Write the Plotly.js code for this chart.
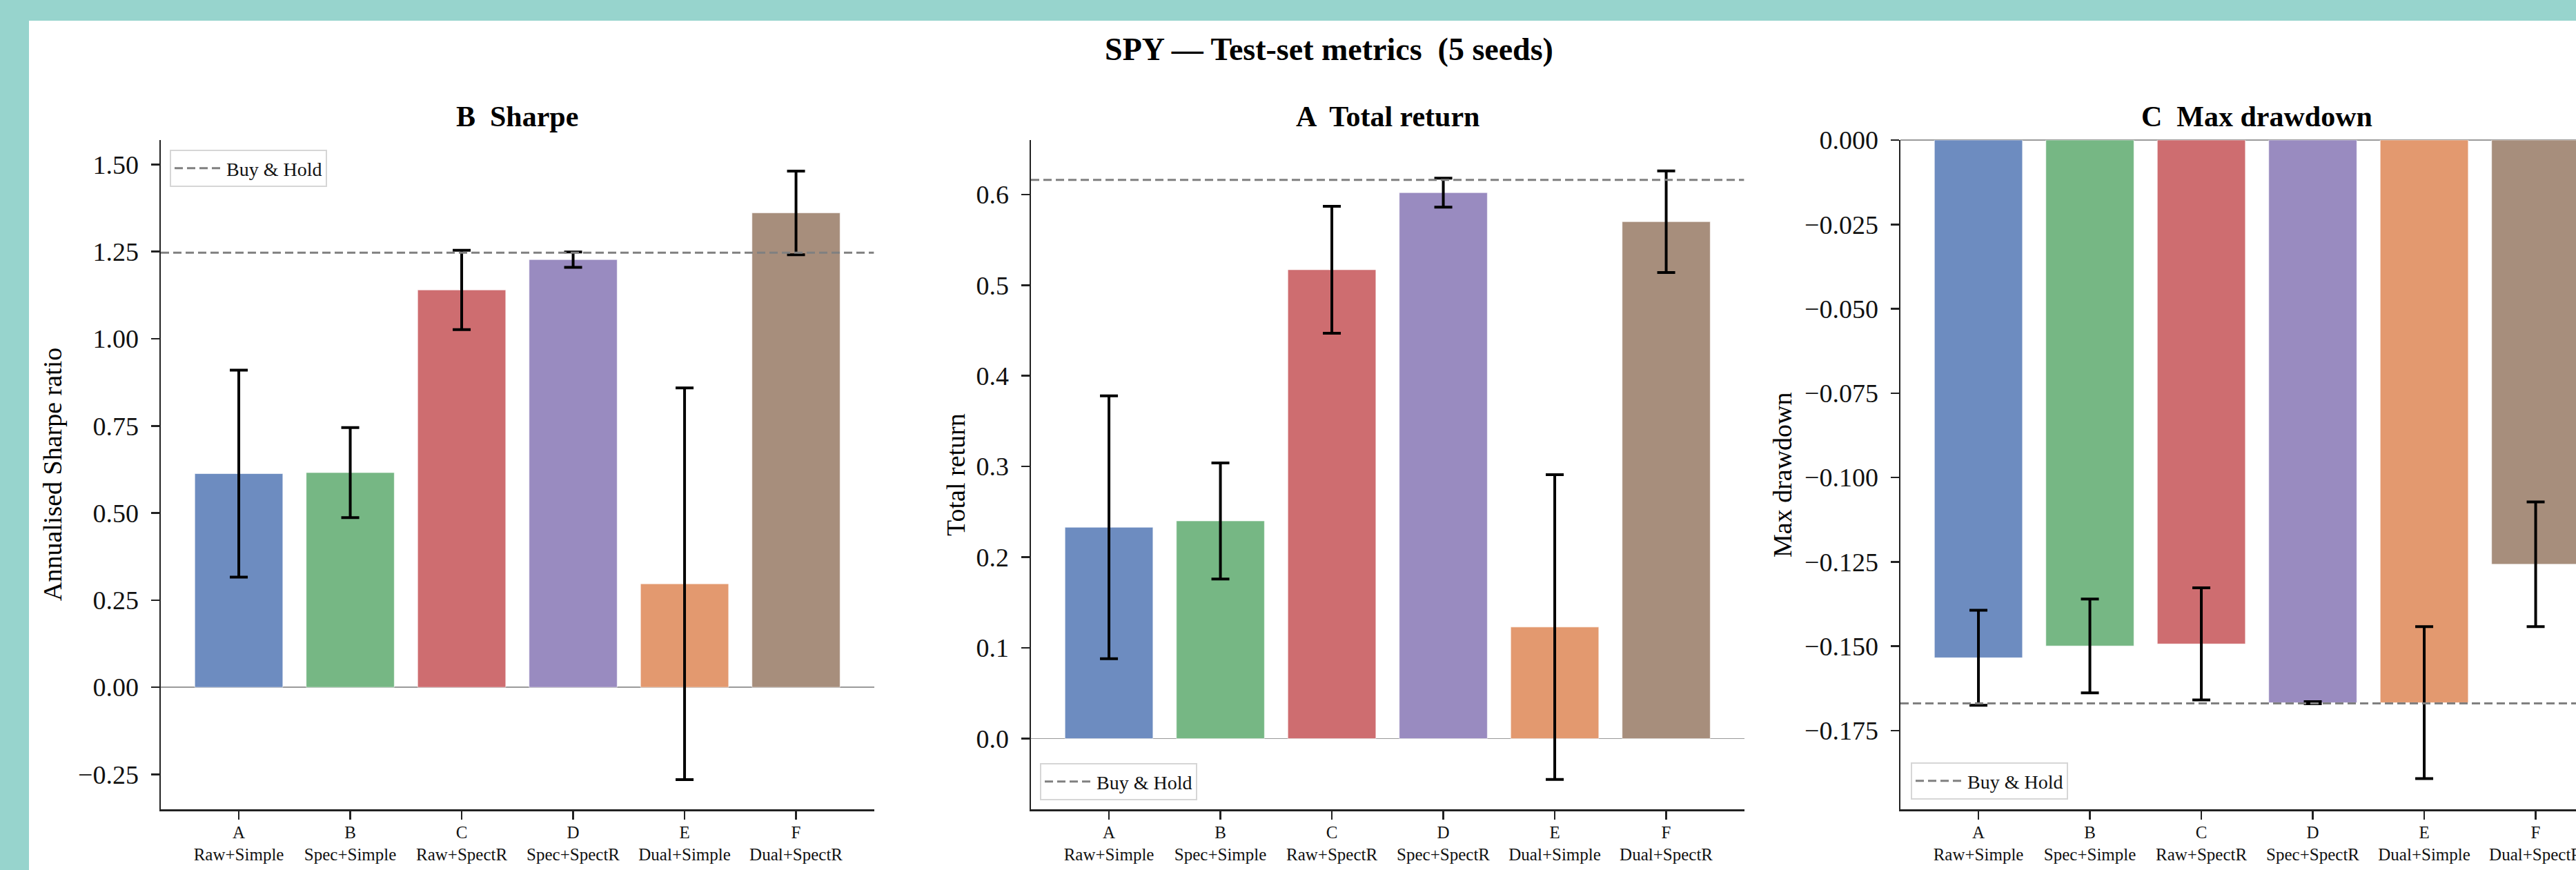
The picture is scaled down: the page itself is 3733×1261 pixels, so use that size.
<!DOCTYPE html>
<html>
<head>
<meta charset="utf-8">
<script src="https://cdn.plot.ly/plotly-3.0.1.min.js"></script>
<style>
  html, body { margin: 0; padding: 0; width: 3733px; height: 1261px; overflow: hidden; background: #97d4cd; }
  #chart { position: absolute; left: 42px; top: 30px; width: 3768px; height: 1231px; background: #ffffff; }
</style>
</head>
<body>
<div id="chart"></div>
<script>
// ---- data ----
const letters = ['A', 'B', 'C', 'D', 'E', 'F'];
const names = ['Raw+Simple', 'Spec+Simple', 'Raw+SpectR', 'Spec+SpectR', 'Dual+Simple', 'Dual+SpectR'];
const sharpeMean = [0.613, 0.616, 1.140, 1.227, 0.297, 1.361];
const sharpeStd  = [0.297, 0.129, 0.114, 0.022, 0.562, 0.120];
const returnMean = [0.233, 0.240, 0.517, 0.602, 0.123, 0.570];
const returnStd  = [0.145, 0.064, 0.070, 0.016, 0.168, 0.056];
const ddMean = [-0.1534, -0.1499, -0.1493, -0.1667, -0.1667, -0.1257];
const ddStd  = [0.0141, 0.0139, 0.0166, 0.0003, 0.0225, 0.0185];
const buyHoldSharpe = 1.247;
const buyHoldReturn = 0.616;
const buyHoldDD = -0.1669;
const panelTitles = ['B  Sharpe', 'A  Total return', 'C  Max drawdown'];
const yTitles = ['Annualised Sharpe ratio', 'Total return', 'Max drawdown'];
const mainTitle = 'SPY \u2014 Test-set metrics  (5 seeds)';
const legendLabel = 'Buy & Hold';

// ---- styling ----
const colors = ['#6d8cc0', '#76b784', '#ce6d70', '#998bc0', '#e3996f', '#a78e7c'];
const FONT = '"Liberation Serif", "Times New Roman", Times, serif';
const W = 3768, H = 1231;
const xr = [-0.7, 5.7];
const unit = 161.5;
const axLefts = [191, 1452, 2712];
const axW = (xr[1] - xr[0]) * unit;
const yTop = 173, yBot = 1143;
const yDom = [1 - yBot / H, 1 - yTop / H];
const xDoms = axLefts.map(l => [l / W, (l + axW) / W]);

const xs = letters.map((_, i) => i);
const tickText = letters.map((l, i) => l + '<br>' + names[i]);

const means = [sharpeMean, returnMean, ddMean];
const stds = [sharpeStd, returnStd, ddStd];
const bh = [buyHoldSharpe, buyHoldReturn, buyHoldDD];
const legendIds = ['legend', 'legend2', 'legend3'];

const traces = [];
for (let p = 0; p < 3; p++) {
  const xa = p === 0 ? 'x' : 'x' + (p + 1);
  const ya = p === 0 ? 'y' : 'y' + (p + 1);
  traces.push({
    type: 'bar', x: xs, y: means[p], width: 0.79,
    xaxis: xa, yaxis: ya, showlegend: false,
    marker: { color: colors, line: { color: 'rgba(255,255,255,0.6)', width: 1 } },
    error_y: { type: 'data', array: stds[p], visible: true, color: '#000000', thickness: 4, width: 13 },
    hoverinfo: 'skip'
  });
}
for (let p = 0; p < 3; p++) {
  const xa = p === 0 ? 'x' : 'x' + (p + 1);
  const ya = p === 0 ? 'y' : 'y' + (p + 1);
  traces.push({
    type: 'scatter', mode: 'lines', x: xr, y: [bh[p], bh[p]],
    xaxis: xa, yaxis: ya, name: legendLabel, legend: legendIds[p], showlegend: true,
    line: { color: '#808080', width: 3, dash: '12px,6px' },
    hoverinfo: 'skip'
  });
}

function xAxis(p) {
  return {
    domain: xDoms[p], range: xr, anchor: p === 0 ? 'y' : 'y' + (p + 1),
    tickmode: 'array', tickvals: xs, ticktext: tickText,
    showgrid: false, zeroline: false, showline: true, linecolor: '#222222', linewidth: 2.5,
    ticks: 'outside', ticklen: 12, tickwidth: 2.5, tickcolor: '#222222',
    tickfont: { family: FONT, size: 25, color: '#111111' }, ticklabelstandoff: -3,
    fixedrange: true
  };
}
function yAxis(p, range, dtick, fmt) {
  return {
    domain: yDom, range: range, anchor: p === 0 ? 'x' : 'x' + (p + 1),
    tick0: 0, dtick: dtick, tickformat: fmt,
    showgrid: false, zeroline: true, zerolinecolor: '#9a9a9a', zerolinewidth: 1.5,
    showline: true, linecolor: '#222222', linewidth: 2.5,
    ticks: 'outside', ticklen: 12, tickwidth: 2.5, tickcolor: '#222222',
    tickfont: { family: FONT, size: 38, color: '#111111' }, ticklabelstandoff: 10,
    fixedrange: true
  };
}

const titleY = 1 - 139 / H;
const annotations = [];
for (let p = 0; p < 3; p++) {
  annotations.push({
    text: '<b>' + panelTitles[p] + '</b>', xref: 'paper', yref: 'paper',
    x: (xDoms[p][0] + xDoms[p][1]) / 2, y: titleY, xanchor: 'center', yanchor: 'middle',
    showarrow: false, font: { family: FONT, size: 42, color: '#000000' }
  });
}
const yTitleX = [34, 1343, 2541];
for (let p = 0; p < 3; p++) {
  annotations.push({
    text: yTitles[p], xref: 'paper', yref: 'paper', textangle: -90,
    x: yTitleX[p] / W, y: (yDom[0] + yDom[1]) / 2, xanchor: 'center', yanchor: 'middle',
    showarrow: false, font: { family: FONT, size: 38, color: '#000000' }
  });
}

const legendBase = {
  bgcolor: 'rgba(255,255,255,0.85)', bordercolor: '#d6d6d6', borderwidth: 2,
  font: { family: FONT, size: 28, color: '#111111' }, xref: 'paper', yref: 'paper',
  itemwidth: 70, tracegroupgap: 0
};

const layout = {
  width: W, height: H,
  margin: { l: 0, r: 0, t: 0, b: 0, pad: 0 },
  paper_bgcolor: '#ffffff', plot_bgcolor: '#ffffff',
  font: { family: FONT, color: '#111111' },
  title: { text: '<b>' + mainTitle + '</b>', x: 0.5, xref: 'paper', xanchor: 'center',
           y: 1 - 40.5 / H, yref: 'paper', yanchor: 'middle',
           font: { family: FONT, size: 46, color: '#000000' } },
  xaxis: xAxis(0), xaxis2: xAxis(1), xaxis3: xAxis(2),
  yaxis: yAxis(0, [-0.35, 1.57], 0.25, '.2f'),
  yaxis2: yAxis(1, [-0.078, 0.660], 0.1, '.1f'),
  yaxis3: yAxis(2, [-0.1983, 0], 0.025, '.3f'),
  bargap: 0.2,
  annotations: annotations,
  legend: Object.assign({}, legendBase, { x: 204 / W, y: 1 - 187 / H, xanchor: 'left', yanchor: 'top' }),
  legend2: Object.assign({}, legendBase, { x: 1465 / W, y: 1 - 1130 / H, xanchor: 'left', yanchor: 'bottom' }),
  legend3: Object.assign({}, legendBase, { x: 2727 / W, y: 1 - 1129 / H, xanchor: 'left', yanchor: 'bottom' }),
  showlegend: true
};

Plotly.newPlot('chart', traces, layout, { displayModeBar: false, responsive: false, staticPlot: true });
</script>
</body>
</html>
